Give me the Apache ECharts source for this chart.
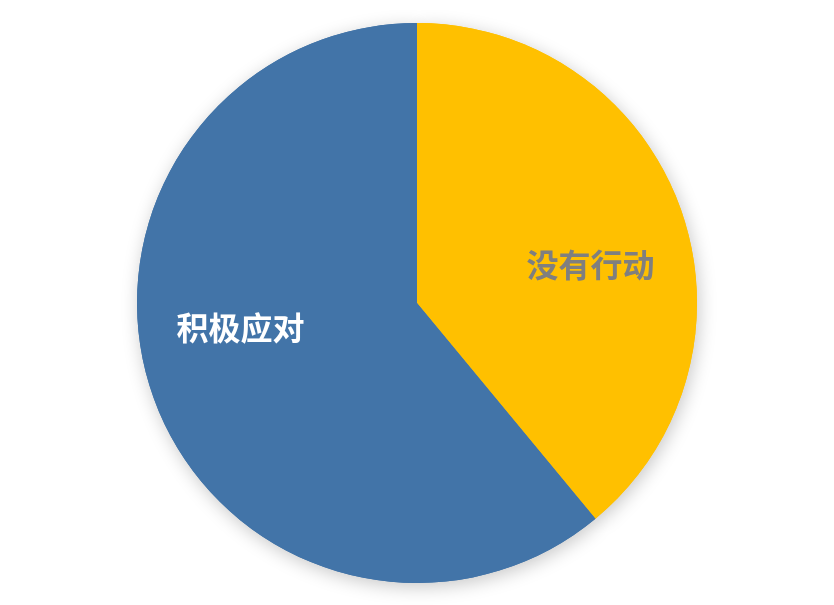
<!DOCTYPE html>
<html>
<head>
<meta charset="utf-8">
<script src="https://cdn.jsdelivr.net/npm/echarts@6/dist/echarts.min.js"></script>
<style>
  html, body { margin: 0; padding: 0; background: #fff; }
  #main { width: 834px; height: 605px; }
</style>
</head>
<body>
<div id="main"></div>
<script>
// 数据
const names = ['没有行动', '积极应对'];
const values = [39, 61];
const colors = ['#FFC000', '#4274A8'];
const labelColors = ['#7F7F7F', '#FFFFFF'];
const labelOffsets = [[39, 10], [-42, -24]];

const chart = echarts.init(document.getElementById('main'));

const baseSeries = {
  type: 'pie',
  center: [417, 303],
  radius: [0, 280],
  startAngle: 90,
  clockwise: true,
  avoidLabelOverlap: false,
  labelLine: { show: false },
  emphasis: { disabled: true }
};

chart.setOption({
  animation: false,
  series: [
    // 阴影层
    Object.assign({}, baseSeries, {
      silent: true,
      z: 1,
      itemStyle: {
        shadowBlur: 18,
        shadowColor: 'rgba(0,0,0,0.22)',
        shadowOffsetX: 2,
        shadowOffsetY: 4
      },
      label: { show: false },
      data: names.map((name, i) => ({
        name: name,
        value: values[i],
        itemStyle: { color: colors[i] }
      }))
    }),
    Object.assign({}, baseSeries, {
      z: 2,
      label: {
        show: true,
        position: 'inside',
        fontFamily: 'Noto Sans CJK SC',
        fontSize: 32,
        fontWeight: 'bold'
      },
      data: names.map((name, i) => ({
        name: name,
        value: values[i],
        itemStyle: { color: colors[i] },
        label: { color: labelColors[i], offset: labelOffsets[i] }
      }))
    })
  ]
});
</script>
</body>
</html>
